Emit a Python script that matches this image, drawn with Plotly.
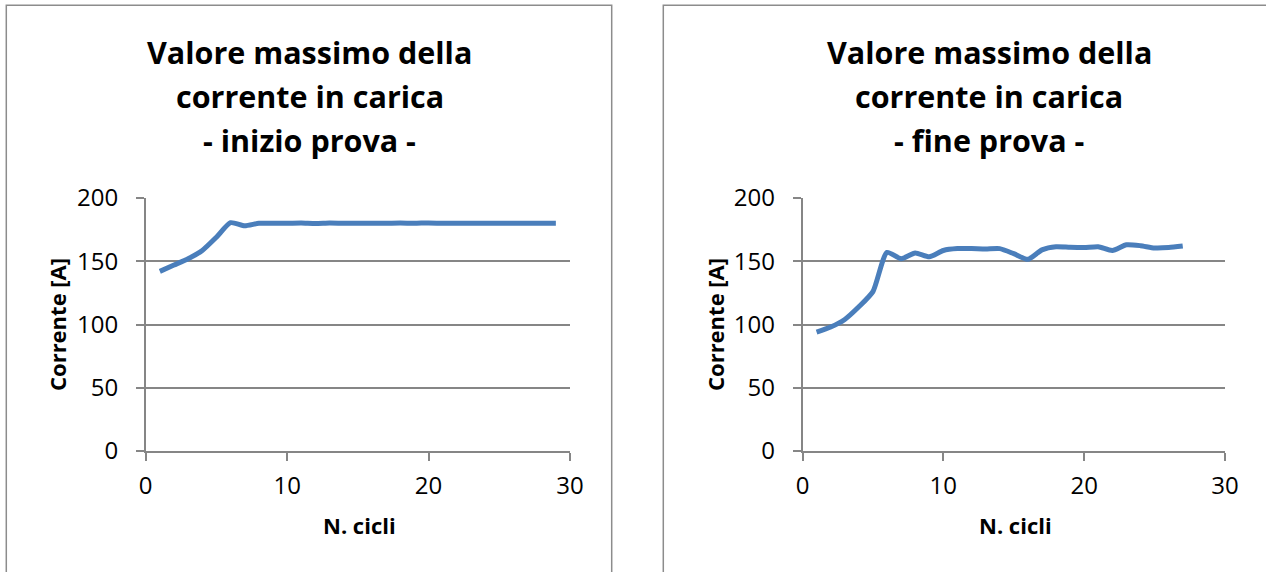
import plotly.graph_objects as go

# Charging-current peak per cycle, start and end of the test
cicli_inizio = list(range(1, 30))
corrente_inizio = [142, 147, 152, 158.5, 169, 180.5, 178, 180, 180, 180,
                   180.2, 179.8, 180.2, 180, 180, 180, 180, 180.2, 180, 180.3,
                   180, 180, 180, 180, 180, 180, 180, 180, 180]

cicli_fine = list(range(1, 28))
corrente_fine = [94, 98, 104, 114, 126, 157, 152, 156.5, 153.5, 158.5,
                 160, 160, 159.7, 160, 156, 151.5, 159, 161.5, 161, 160.8,
                 161.5, 158.5, 163, 162.3, 160.5, 160.8, 162]

titolo_righe = ["Valore massimo della", "corrente in carica"]
titolo_inizio = "- inizio prova -"
titolo_fine = "- fine prova -"
asse_x = "N. cicli"
asse_y = "Corrente [A]"

W, H = 1266, 572
FONT = "Open Sans"
LINE_BLUE = "#4A7EBB"
GRID = "#868686"


def px(x):
    return x / W


def py(y):
    return 1 - y / H


fig = go.Figure()
for xs, ys, xa, ya in [(cicli_inizio, corrente_inizio, "x", "y"),
                       (cicli_fine, corrente_fine, "x2", "y2")]:
    fig.add_trace(go.Scatter(x=xs, y=ys, mode="lines",
                             line=dict(color=LINE_BLUE, width=5, shape="spline", smoothing=0.6),
                             xaxis=xa, yaxis=ya, hoverinfo="x+y"))

tickfont = dict(family=FONT, size=24, color="#000000")


def xaxis(domain, anchor):
    return dict(domain=domain, anchor=anchor, range=[0, 30], dtick=10, tick0=0,
                showgrid=False, zeroline=False, showline=True, linecolor=GRID,
                linewidth=1.5, ticks="outside", ticklen=8, tickcolor=GRID,
                tickwidth=1.5, tickfont=tickfont, ticklabelstandoff=4,
                automargin=False, fixedrange=True)


def yaxis(domain, anchor):
    return dict(domain=domain, anchor=anchor, range=[0, 200], dtick=50, tick0=0,
                showgrid=True, gridcolor=GRID, gridwidth=1.5, zeroline=False,
                showline=True, linecolor=GRID, linewidth=1.5, ticks="outside",
                ticklen=8, tickcolor=GRID, tickwidth=1.5, tickfont=tickfont,
                ticklabelstandoff=13, automargin=False, fixedrange=True)


ydom = [py(451), py(198)]
fig.update_layout(
    width=W, height=H,
    margin=dict(l=0, r=0, t=0, b=0, autoexpand=False),
    paper_bgcolor="white", plot_bgcolor="white",
    showlegend=False,
    xaxis=xaxis([px(145.7), px(570)], "y"),
    yaxis=yaxis(ydom, "x"),
    xaxis2=xaxis([px(802.5), px(1225)], "y2"),
    yaxis2=yaxis(ydom, "x2"),
)

# chart frames
fig.add_shape(type="rect", xref="paper", yref="paper",
              x0=px(6.3), x1=px(611.7), y0=py(620), y1=py(5.3),
              line=dict(color="#8C8C8C", width=1.5), layer="below")
fig.add_shape(type="rect", xref="paper", yref="paper",
              x0=px(663.3), x1=px(1320), y0=py(620), y1=py(5.3),
              line=dict(color="#8C8C8C", width=1.5), layer="below")

annotations = []
for cx, sub, ycx, xlab_x in [(309.5, titolo_inizio, 57, 359),
                             (989, titolo_fine, 715, 1015)]:
    for i, riga in enumerate(titolo_righe + [sub]):
        annotations.append(dict(text=f"<b>{riga}</b>", x=px(cx), y=py(52 + 43.8 * i),
                                xref="paper", yref="paper", xanchor="center",
                                yanchor="middle", showarrow=False,
                                font=dict(family=FONT, size=30.5, color="#000000")))
    annotations.append(dict(text=f"<b>{asse_y}</b>", x=px(ycx), y=py(325),
                            xref="paper", yref="paper", xanchor="center",
                            yanchor="middle", textangle=-90, showarrow=False,
                            font=dict(family=FONT, size=22, color="#000000")))
    annotations.append(dict(text=f"<b>{asse_x}</b>", x=px(xlab_x), y=py(525),
                            xref="paper", yref="paper", xanchor="center",
                            yanchor="middle", showarrow=False,
                            font=dict(family=FONT, size=22, color="#000000")))
fig.update_layout(annotations=annotations)

fig.write_html("out.html", config=dict(displayModeBar=False))
